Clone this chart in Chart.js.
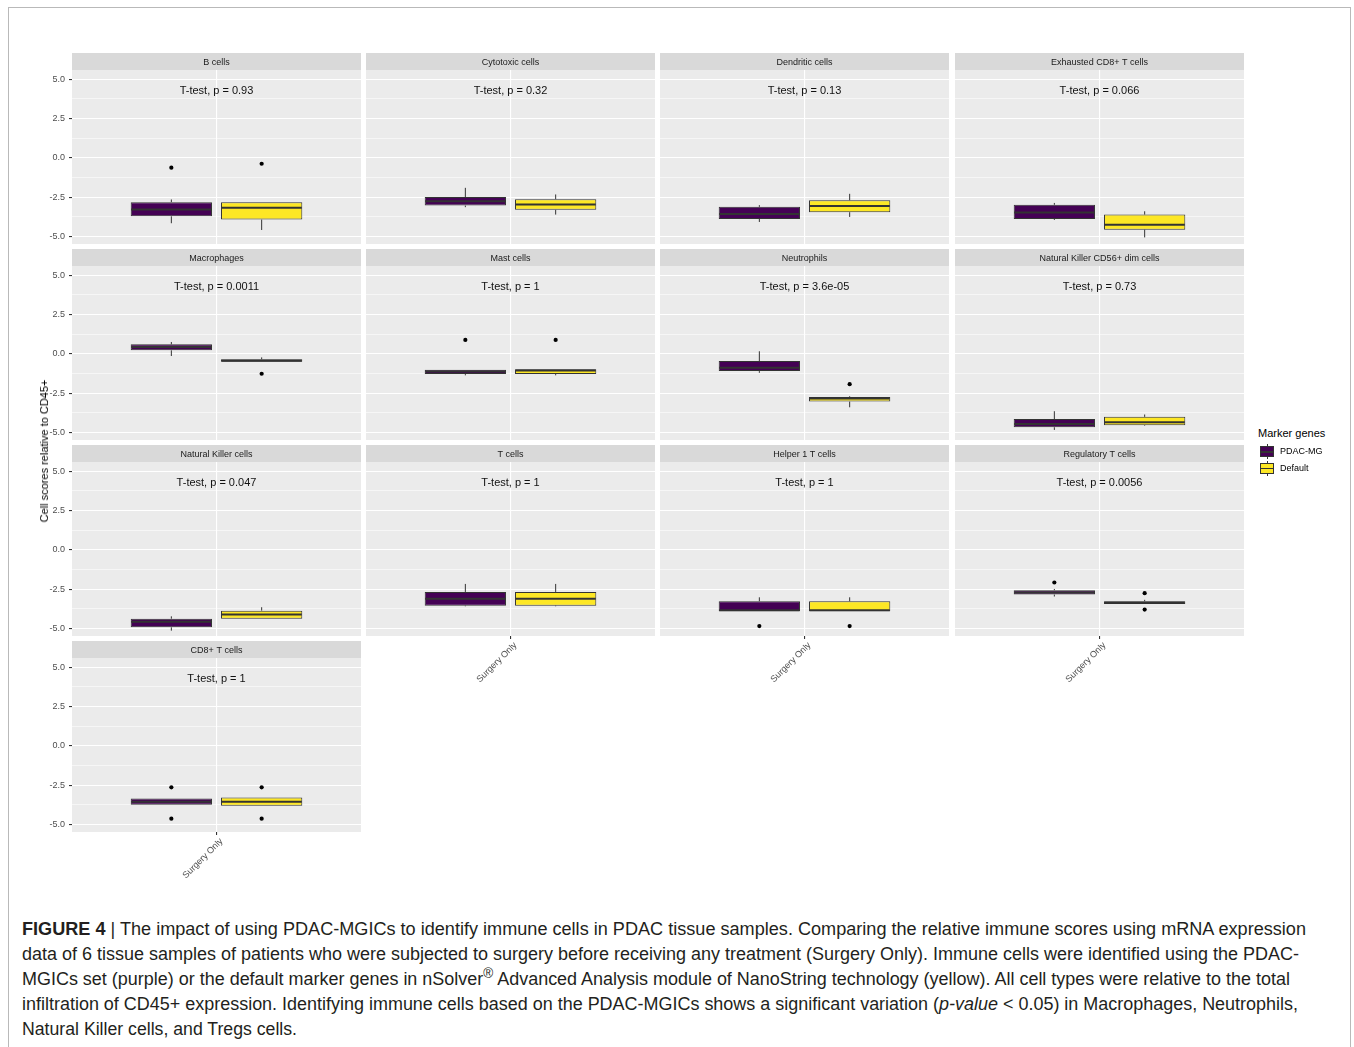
<!DOCTYPE html>
<html>
<head>
<meta charset="utf-8">
<title>Immune cell scores, PDAC-MG vs default marker genes</title>
<script src="https://cdn.jsdelivr.net/npm/chart.js@4.4.1/dist/chart.umd.min.js"></script>
<style>
  html, body { margin: 0; padding: 0; background: #fff; }
  body { width: 1354px; height: 1047px; position: relative; overflow: hidden;
         font-family: "Liberation Sans", Arial, sans-serif; }
  #frame { position: absolute; left: 8px; top: 7px; width: 1343px; height: 1100px;
           border: 1px solid #b9b9b9; box-sizing: border-box; }
  canvas.panel { position: absolute; }
  #ytitle { position: absolute; left: 44px; top: 451px; transform: translate(-50%, -50%) rotate(-90deg);
            font-size: 11px; white-space: nowrap; color: #000; }
  #legend { position: absolute; left: 1258px; top: 425px; color: #000; }
  #legend .ttl { font-size: 11px; line-height: 16px; white-space: nowrap; margin-bottom: 3px; }
  #legend .row { position: relative; height: 16.5px; }
  #legend .key { position: absolute; left: 1px; top: 0; width: 16px; height: 17px; }
  #legend .wh { position: absolute; left: 8px; top: 0; width: 1px; height: 15px; background: #333; }
  #legend .bx { position: absolute; left: 1px; top: 2px; width: 14px; height: 11px; border: 1px solid #333; box-sizing: border-box; }
  #legend .md { position: absolute; left: 0; right: 0; top: 4px; height: 1.5px; background: #333; }
  #legend .lab { position: absolute; left: 22px; top: -1px; font-size: 9px; line-height: 17px; white-space: nowrap; }
  #caption { position: absolute; left: 22px; top: 916px; font-size: 18.3px; line-height: 25px;
             color: #231f20; white-space: nowrap; }
  #caption .ln { display: block; transform-origin: 0 50%; }
  #caption sup { font-size: 0.75em; line-height: 0; }
</style>
</head>
<body>
<div id="frame"></div>
<div id="panels"></div>
<div id="ytitle">Cell scores relative to CD45+</div>
<div id="legend">
  <div class="ttl">Marker genes</div>
  <div class="row"><div class="key"><div class="wh"></div><div class="bx" style="background:#440154"><div class="md"></div></div></div><div class="lab">PDAC-MG</div></div>
  <div class="row"><div class="key"><div class="wh"></div><div class="bx" style="background:#FDE725"><div class="md"></div></div></div><div class="lab">Default</div></div>
</div>
<div id="caption">
  <span class="ln" data-w="1284"><b>FIGURE 4</b> | The impact of using PDAC-MGICs to identify immune cells in PDAC tissue samples. Comparing the relative immune scores using mRNA expression</span>
  <span class="ln" data-w="1277">data of 6 tissue samples of patients who were subjected to surgery before receiving any treatment (Surgery Only). Immune cells were identified using the PDAC-</span>
  <span class="ln" data-w="1268">MGICs set (purple) or the default marker genes in nSolver<sup>®</sup> Advanced Analysis module of NanoString technology (yellow). All cell types were relative to the total</span>
  <span class="ln" data-w="1276">infiltration of CD45+ expression. Identifying immune cells based on the PDAC-MGICs shows a significant variation (<i>p-value</i> &lt; 0.05) in Macrophages, Neutrophils,</span>
  <span class="ln" data-w="275">Natural Killer cells, and Tregs cells.</span>
</div>
<script>
// ---- data -------------------------------------------------------------
const cellTypes = ['B cells', 'Cytotoxic cells', 'Dendritic cells', 'Exhausted CD8+ T cells',
  'Macrophages', 'Mast cells', 'Neutrophils', 'Natural Killer CD56+ dim cells',
  'Natural Killer cells', 'T cells', 'Helper 1 T cells', 'Regulatory T cells', 'CD8+ T cells'];
const pValues = ['0.93', '0.32', '0.13', '0.066', '0.0011', '1', '3.6e-05', '0.73',
  '0.047', '1', '1', '0.0056', '1'];
const groups = ['PDAC-MG', 'Default'];
const conditions = ['Surgery Only'];

// PDAC-MG marker genes: whisker ends, quartiles, median, outliers
const pdacLow    = [-4.15, -3.13, -4.07, -3.94, -0.13, -1.36, -1.20, -4.83, -5.13, -3.58, -3.90, -2.96, -3.73];
const pdacQ1     = [-3.71, -3.03, -3.88, -3.88,  0.23, -1.28, -1.09, -4.66, -4.92, -3.54, -3.90, -2.84, -3.73];
const pdacMedian = [-3.28, -2.75, -3.56, -3.47,  0.44, -1.11, -0.88, -4.45, -4.56, -3.10, -3.83, -2.70, -3.54];
const pdacQ3     = [-2.81, -2.49, -3.11, -2.98,  0.61, -1.00, -0.45, -4.14, -4.37, -2.67, -3.26, -2.56, -3.34];
const pdacHigh   = [-2.64, -1.90, -3.00, -2.86,  0.76, -1.00,  0.17, -3.64, -4.22, -2.16, -3.01, -2.48, -3.34];
const pdacOut    = [[-0.62], [], [], [], [], [0.89], [], [], [], [], [-4.84], [-2.07], [-2.63, -4.62]];

// Default nSolver marker genes
const defLow     = [-4.58, -3.60, -3.75, -5.05, -0.49, -1.36, -3.39, -4.57, -4.37, -3.58, -3.90, -3.43, -3.80];
const defQ1      = [-3.92, -3.30, -3.45, -4.56, -0.49, -1.28, -3.03, -4.53, -4.37, -3.54, -3.90, -3.43, -3.80];
const defMedian  = [-3.17, -2.96, -3.05, -4.24, -0.43, -1.05, -2.83, -4.34, -4.11, -3.10, -3.83, -3.35, -3.54];
const defQ3      = [-2.81, -2.62, -2.69, -3.60, -0.34, -0.98, -2.73, -4.00, -3.86, -2.67, -3.26, -3.26, -3.28];
const defHigh    = [-2.81, -2.32, -2.28, -3.39, -0.22, -0.98, -2.68, -3.85, -3.64, -2.16, -3.01, -3.17, -3.28];
const defOut     = [[-0.37], [], [], [], [-1.26], [0.89], [-1.92], [], [], [], [-4.84], [-2.75, -3.79], [-2.63, -4.62]];

// ---- look -------------------------------------------------------------
const FONT = '"Liberation Sans", Arial, sans-serif';
const COLORS = ['#440154', '#FDE725'];
const Y_MIN = -5.47, Y_MAX = 5.59, LABEL_Y = 4.24;
const G = { left0: 71.5, top0: 53, dx: 294.4, dy: 196, w: 289, strip: 17, h: 173.5, axisW: 45, xLab: 60 };

const isMajor = v => Math.abs(v / 2.5 - Math.round(v / 2.5)) < 1e-6;

// panel background + strip background
const panelBg = {
  id: 'panelBg',
  beforeDraw(chart) {
    const { ctx, chartArea: a } = chart;
    ctx.save();
    ctx.fillStyle = '#D9D9D9';
    ctx.fillRect(a.left, 0, a.right - a.left, a.top);
    ctx.fillStyle = '#EBEBEB';
    ctx.fillRect(a.left, a.top, a.right - a.left, a.bottom - a.top);
    ctx.restore();
  }
};

// whiskers, median bar and outlier points on top of the IQR bars
const boxParts = {
  id: 'boxParts',
  afterDatasetsDraw(chart) {
    const ctx = chart.ctx, ys = chart.scales.y;
    chart.data.datasets.forEach((ds, di) => {
      const bar = chart.getDatasetMeta(di).data[0];
      const st = ds.stats, x = bar.x, hw = bar.width / 2;
      const seg = (x1, y1, x2, y2) => { ctx.beginPath(); ctx.moveTo(x1, y1); ctx.lineTo(x2, y2); ctx.stroke(); };
      ctx.save();
      ctx.strokeStyle = '#333333';
      ctx.lineWidth = 1;
      if (st.high > st.q3) seg(x, ys.getPixelForValue(st.q3), x, ys.getPixelForValue(st.high));
      if (st.low < st.q1) seg(x, ys.getPixelForValue(st.q1), x, ys.getPixelForValue(st.low));
      ctx.lineWidth = 2;
      const ym = ys.getPixelForValue(st.median);
      seg(x - hw + 0.5, ym, x + hw - 0.5, ym);
      ctx.fillStyle = '#000';
      st.outliers.forEach(v => {
        ctx.beginPath();
        ctx.arc(x, ys.getPixelForValue(v), 2.1, 0, Math.PI * 2);
        ctx.fill();
      });
      ctx.restore();
    });
  }
};

// t-test annotation
const pLabel = {
  id: 'pLabel',
  afterDraw(chart, args, opts) {
    const ctx = chart.ctx;
    ctx.save();
    ctx.font = '11px ' + FONT;
    ctx.fillStyle = '#111';
    ctx.textAlign = 'center';
    ctx.textBaseline = 'middle';
    ctx.fillText(opts.text, chart.scales.x.getPixelForValue(0), chart.scales.y.getPixelForValue(LABEL_Y));
    ctx.restore();
  }
};

function makePanel(i) {
  const row = Math.floor(i / 4), col = i % 4;
  const bottom = i >= 9;
  const canvas = document.createElement('canvas');
  canvas.className = 'panel';
  const left = Math.round(G.left0 + col * G.dx) - G.axisW;
  const top = Math.round(G.top0 + row * G.dy);
  canvas.width = G.axisW + G.w;
  canvas.height = Math.round(G.strip + G.h + (bottom ? G.xLab : 0));
  canvas.style.left = left + 'px';
  canvas.style.top = top + 'px';
  document.getElementById('panels').appendChild(canvas);

  const stats = [
    { low: pdacLow[i], q1: pdacQ1[i], median: pdacMedian[i], q3: pdacQ3[i], high: pdacHigh[i], outliers: pdacOut[i] },
    { low: defLow[i], q1: defQ1[i], median: defMedian[i], q3: defQ3[i], high: defHigh[i], outliers: defOut[i] }
  ];

  new Chart(canvas, {
    type: 'bar',
    data: {
      labels: conditions,
      datasets: groups.map((g, gi) => ({
        label: g,
        data: [[stats[gi].q1, stats[gi].q3]],
        stats: stats[gi],
        backgroundColor: COLORS[gi],
        borderColor: '#333333',
        borderWidth: 1,
        borderSkipped: false
      }))
    },
    options: {
      responsive: false,
      animation: false,
      devicePixelRatio: 1,
      events: [],
      layout: { padding: 0 },
      categoryPercentage: 0.625,
      barPercentage: 0.9,
      plugins: {
        legend: { display: false },
        tooltip: { enabled: false },
        title: {
          display: true, text: cellTypes[i], position: 'top', fullSize: false,
          padding: { top: 2, bottom: 0 },
          color: '#1A1A1A', font: { family: FONT, size: 9, weight: 'normal', lineHeight: (G.strip - 2) + 'px' }
        },
        pLabel: { text: 'T-test, p = ' + pValues[i] }
      },
      scales: {
        x: {
          type: 'category',
          offset: true,
          border: { display: false },
          grid: { color: '#FFFFFF', lineWidth: 1.1, offset: false, drawTicks: bottom, tickLength: 3, tickColor: '#333333' },
          ticks: { display: bottom, maxRotation: 45, minRotation: 45, padding: 1, labelOffset: 5,
                   color: '#4D4D4D', font: { family: FONT, size: 9 } },
          afterFit(s) { s.height = bottom ? G.xLab : 0; s.paddingLeft = 0; s.paddingRight = 0; }
        },
        y: {
          type: 'linear',
          min: Y_MIN, max: Y_MAX,
          border: { display: false },
          grid: {
            color: '#FFFFFF',
            lineWidth: c => (c.tick && isMajor(c.tick.value)) ? 1.1 : 0.55,
            drawTicks: true, tickLength: 3,
            tickColor: c => (col === 0 && c.tick && isMajor(c.tick.value)) ? '#333333' : 'rgba(0,0,0,0)'
          },
          ticks: {
            stepSize: 1.25, includeBounds: false, autoSkip: false, padding: 4,
            color: '#4D4D4D', font: { family: FONT, size: 9 },
            callback: v => (col === 0 && isMajor(v)) ? v.toFixed(1) : ''
          },
          afterFit(s) { s.width = G.axisW; s.paddingTop = 0; s.paddingBottom = 0; }
        }
      }
    },
    plugins: [panelBg, boxParts, pLabel]
  });
}

cellTypes.forEach((_, i) => makePanel(i));

// fit each caption line to its typeset width
document.querySelectorAll('#caption .ln').forEach(el => {
  el.style.display = 'inline-block';
  const w = el.getBoundingClientRect().width;
  el.style.transform = 'scaleX(' + (parseFloat(el.dataset.w) / w) + ')';
  el.style.display = 'block';
  el.style.width = w + 'px';
});
</script>
</body>
</html>
